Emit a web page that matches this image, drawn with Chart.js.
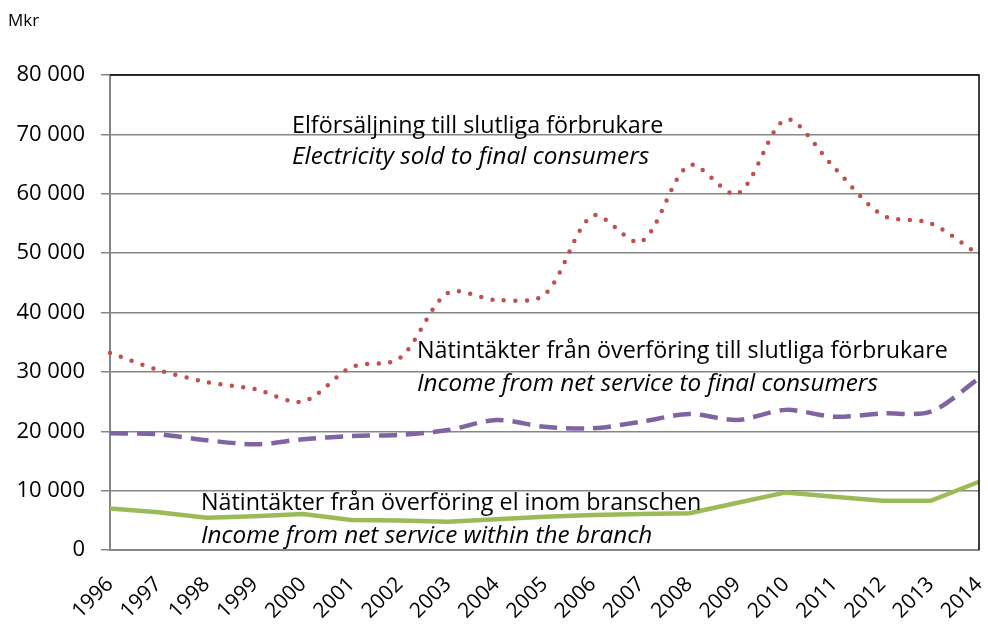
<!DOCTYPE html>
<html>
<head>
<meta charset="utf-8">
<script src="https://cdn.jsdelivr.net/npm/chart.js@4"></script>
<style>
  html, body { margin: 0; padding: 0; background: #fff; }
  #wrap { width: 988px; height: 624px; position: relative; }
</style>
</head>
<body>
<div id="wrap"><canvas id="chart" width="988" height="624"></canvas></div>
<script>
// Data (Mkr)
const years = ["1996","1997","1998","1999","2000","2001","2002","2003","2004","2005",
               "2006","2007","2008","2009","2010","2011","2012","2013","2014"];
const elSales = [33200, 30300, 28300, 27100, 25000, 30800, 32300, 43300, 42100, 43000,
                 56300, 51900, 64800, 60000, 72500, 64400, 56400, 55000, 49700];
const netToConsumers = [19650, 19500, 18500, 17800, 18650, 19200, 19400, 20200, 21900, 20750,
                        20500, 21600, 22900, 21900, 23600, 22450, 23000, 23300, 28900];
const netWithinBranch = [7000, 6350, 5450, 5700, 6050, 5050, 4950, 4770, 5170, 5600,
                         5900, 6050, 6200, 7950, 9700, 8980, 8300, 8300, 11500];
const yTicks = [0, 10000, 20000, 30000, 40000, 50000, 60000, 70000, 80000];

const FONT = "'Open Sans', Lato, sans-serif";

// Etiketter i diagrammet: [text, x, y, kursiv]
const labels = [
  ["Elförsäljning till slutliga förbrukare", 292, 126, false],
  ["Electricity sold to final consumers", 292, 157, true],
  ["Nätintäkter från överföring till slutliga förbrukare", 417, 351, false],
  ["Income from net service to final consumers", 417, 384, true],
  ["Nätintäkter från överföring el inom branschen", 201, 503, false],
  ["Income from net service within the branch", 201, 536, true]
];

const textPlugin = {
  id: "texts",
  afterDraw(chart) {
    const c = chart.ctx;
    const a = chart.chartArea;
    c.save();
    // svart ram uppe och till höger
    c.strokeStyle = "#000";
    c.lineWidth = 1.5;
    c.beginPath();
    c.moveTo(a.left, a.top);
    c.lineTo(a.right, a.top);
    c.lineTo(a.right, a.bottom);
    c.stroke();

    c.fillStyle = "#000";
    c.textBaseline = "middle";
    c.textAlign = "left";
    for (const [t, x, y, it] of labels) {
      c.font = it ? "italic 24.3px " + FONT : "23.3px " + FONT;
      c.fillText(t, x, y);
    }
    c.font = "17px " + FONT;
    c.fillText("Mkr", 8, 21);
    c.restore();
  }
};

const ctx = document.getElementById("chart").getContext("2d");
new Chart(ctx, {
  type: "line",
  data: {
    labels: years,
    datasets: [
      {
        label: "Elförsäljning till slutliga förbrukare",
        data: elSales,
        borderColor: "#C0504D",
        borderWidth: 4.5,
        borderDash: [0, 11.5],
        borderCapStyle: "round",
        tension: 0.3,
        pointRadius: 0
      },
      {
        label: "Nätintäkter från överföring till slutliga förbrukare",
        data: netToConsumers,
        borderColor: "#8064A2",
        borderWidth: 4.5,
        borderDash: [18, 9],
        tension: 0.3,
        pointRadius: 0
      },
      {
        label: "Nätintäkter från överföring el inom branschen",
        data: netWithinBranch,
        borderColor: "#9BBB59",
        borderWidth: 4.5,
        tension: 0,
        pointRadius: 0
      }
    ]
  },
  options: {
    responsive: false,
    animation: false,
    layout: { padding: { top: 75, right: 9, left: 0, bottom: 0 } },
    plugins: { legend: { display: false }, tooltip: { enabled: false } },
    scales: {
      x: {
        offset: false,
        grid: { display: false, drawTicks: true, tickLength: 7, color: "#868686", lineWidth: 1.5 },
        border: { color: "#868686", width: 2 },
        ticks: {
          color: "#000",
          font: { family: FONT, size: 21 },
          maxRotation: 45,
          minRotation: 45,
          padding: 15,
          autoSkip: false
        },
        afterFit(scale) {
          scale.height = 74;
          scale.paddingLeft = 0;
          scale.paddingRight = 0;
        }
      },
      y: {
        min: 0,
        max: 80000,
        afterBuildTicks(scale) { scale.ticks = yTicks.map(v => ({ value: v })); },
        grid: { color: "#868686", lineWidth: 1.5, tickLength: 9 },
        border: { color: "#868686", width: 2 },
        ticks: {
          color: "#000",
          font: { family: FONT, size: 22 },
          padding: 16,
          callback: v => v === 0 ? "0" : String(v).replace(/\B(?=(\d{3})+(?!\d))/g, " ")
        },
        afterFit(scale) { scale.width = 110; }
      }
    }
  },
  plugins: [textPlugin]
});
</script>
</body>
</html>
